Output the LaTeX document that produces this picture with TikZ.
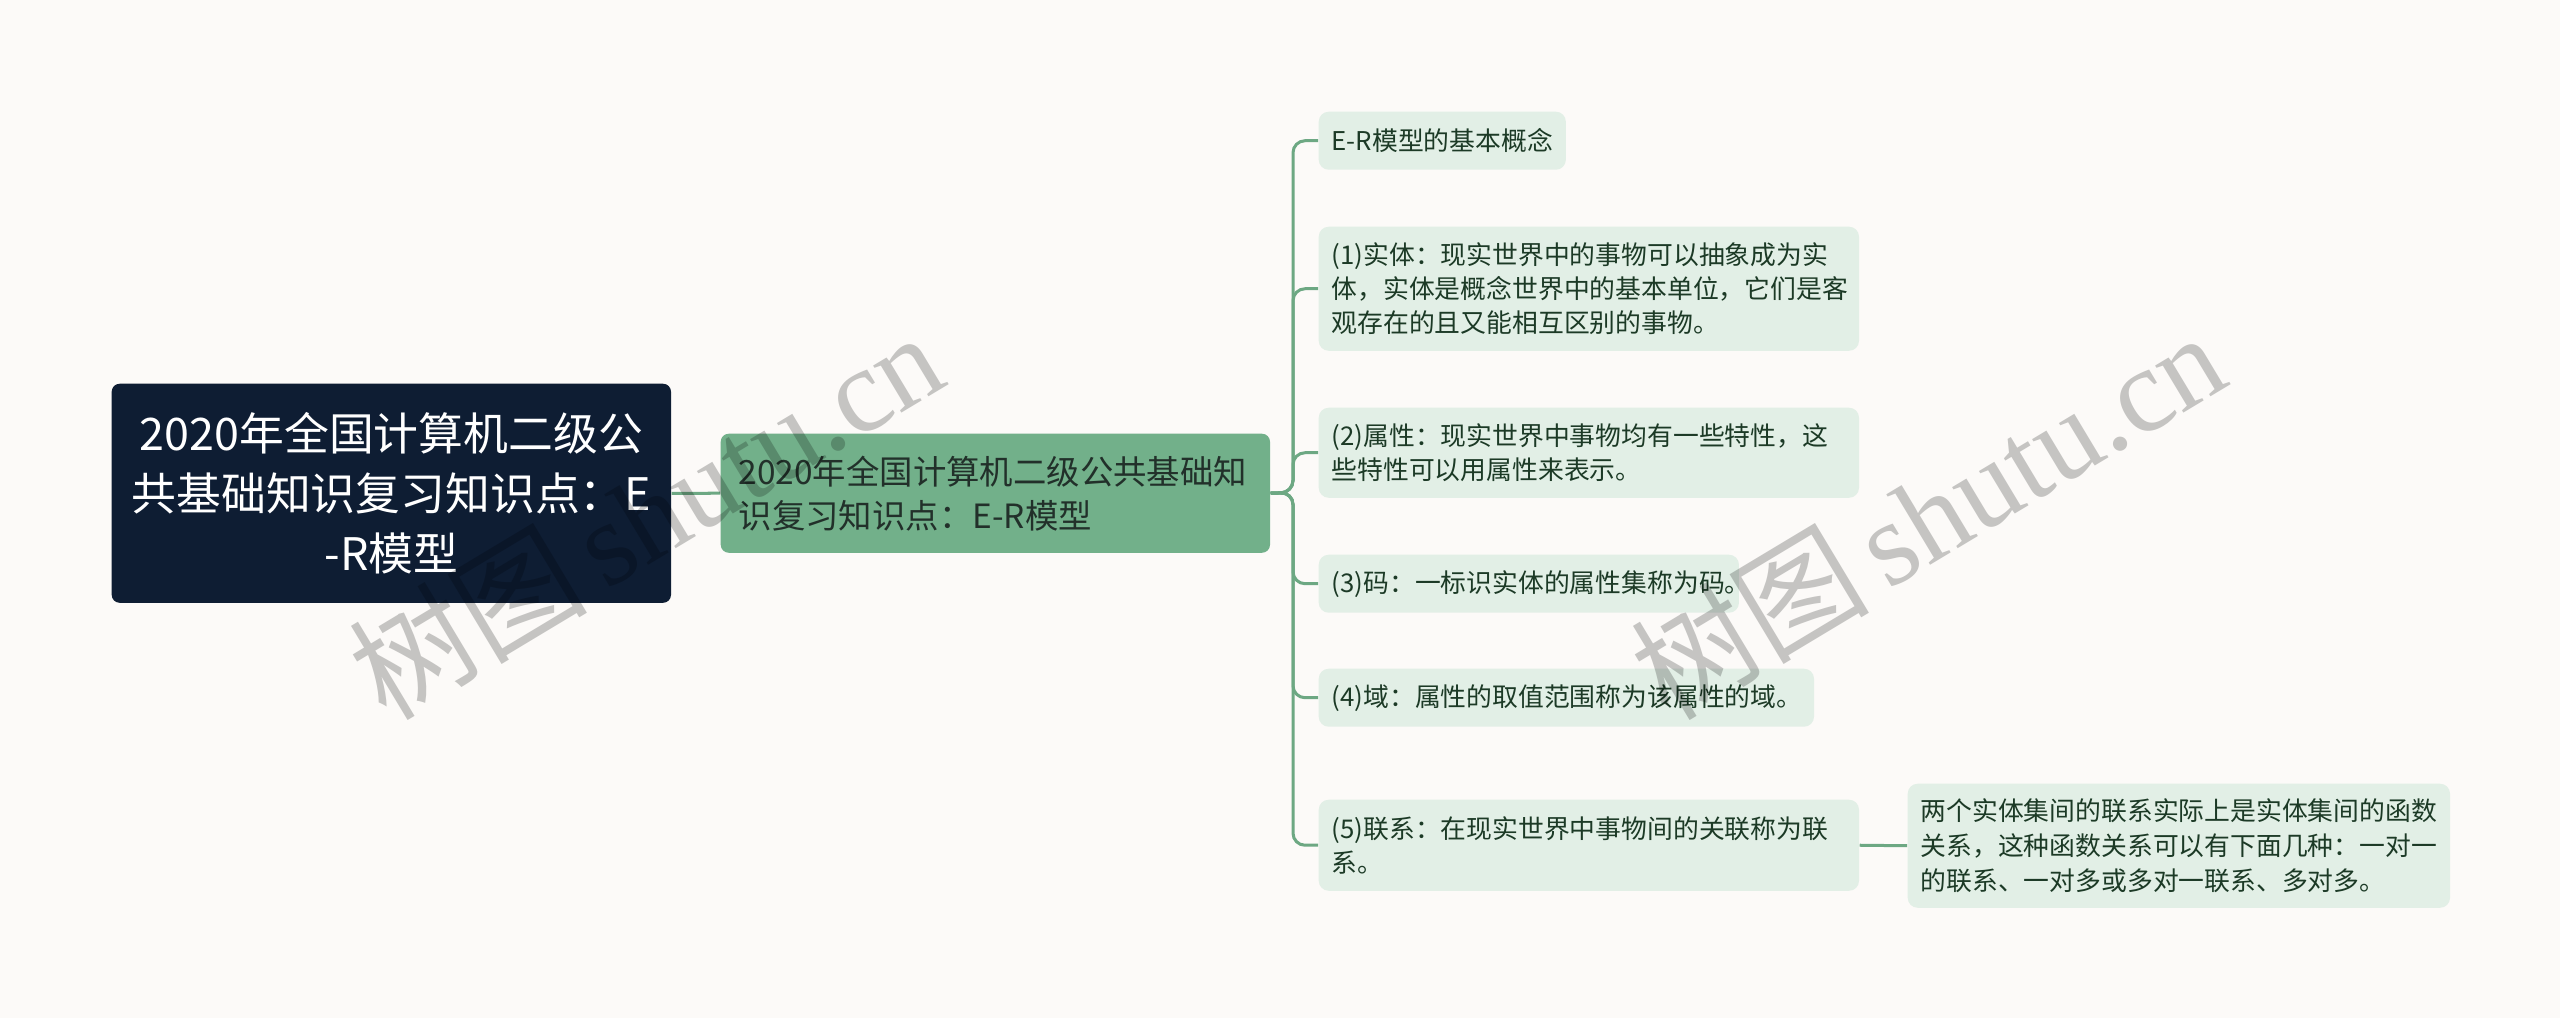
\documentclass[tikz,border=0pt]{standalone}
\usepackage{fontspec}
\setmainfont{Noto Sans CJK SC}
\newfontfamily\wmcjk{Noto Sans CJK SC}
\newfontfamily\wmlat{Liberation Serif}
\definecolor{bgc}{HTML}{FCFAF8}
\definecolor{rootc}{HTML}{0E1D33}
\definecolor{secfill}{HTML}{72B08A}
\definecolor{sectext}{HTML}{22302A}
\definecolor{chfill}{HTML}{E2EFE6}
\definecolor{chtext}{HTML}{1C3A26}
\definecolor{connc}{HTML}{6DA883}
\definecolor{wmc}{HTML}{C8C8C8}
\tikzset{
  rootbox/.style={fill=rootc, text=white, rounded corners=0.08cm, anchor=north west,
    align=center, inner sep=0pt, font=\fontsize{12.75}{17.07}\selectfont},
  secbox/.style={fill=secfill, text=sectext, rounded corners=0.08cm, anchor=north west,
    align=left, inner xsep=0.18cm, inner ysep=0pt, font=\fontsize{9.5}{12.52}\selectfont},
  chbox/.style={fill=chfill, text=chtext, rounded corners=0.1cm, anchor=north west,
    align=left, inner xsep=0.13cm, inner ysep=0pt, font=\fontsize{7.34}{9.6}\selectfont},
  gcbox/.style={chbox, font=\fontsize{7.34}{10.0}\selectfont},
  conn/.style={draw=connc, line width=0.03cm, rounded corners=0.12cm},
  wmark/.style={text=wmc, rotate=31, inner sep=0pt}
}
\begin{document}
\begin{tikzpicture}[x=0.01cm,y=-0.01cm]
\fill[bgc] (0,0) rectangle (2560,1018);
\useasboundingbox (0,0) rectangle (2560,1018);

\node[rootbox, minimum width=5.59cm, minimum height=2.19cm] (root) at (111,383)
  {2020年全国计算机二级公\\共基础知识复习知识点：E\\-R模型};
\node[secbox, text width=5.13cm, minimum height=1.19cm] (sec) at (720,433)
  {2020年全国计算机二级公共基础知\\识复习知识点：E-R模型};

\node[chbox, text width=2.21cm, minimum height=0.58cm] (c0) at (1318,111)
  {\mbox{E-R模型的基本概念}};
\node[chbox, text width=5.14cm, minimum height=1.24cm] (c1) at (1318,226)
  {(1)实体：现实世界中的事物可以抽象成为实\\体，实体是概念世界中的基本单位，它们是客\\观存在的且又能相互区别的事物。};
\node[chbox, text width=5.14cm, minimum height=0.90cm] (c2) at (1318,407)
  {(2)属性：现实世界中事物均有一些特性，这\\些特性可以用属性来表示。};
\node[chbox, text width=3.94cm, minimum height=0.58cm] (c3) at (1318,554)
  {(3)码：一标识实体的属性集称为码。};
\node[chbox, text width=4.69cm, minimum height=0.58cm] (c4) at (1318,668)
  {(4)域：属性的取值范围称为该属性的域。};
\node[chbox, text width=5.14cm, minimum height=0.91cm] (c5) at (1318,799)
  {(5)联系：在现实世界中事物间的关联称为联\\系。};
\node[gcbox, text width=5.16cm, minimum height=1.24cm] (g) at (1907,783)
  {两个实体集间的联系实际上是实体集间的函数\\关系，这种函数关系可以有下面几种：一对一\\的联系、一对多或多对一联系、多对多。};

\coordinate (sp) at (1293,492.5);
\draw[conn] (root.east) -- (sec.west);
\foreach \c in {c0,c1,c2,c3,c4,c5}{
  \draw[conn] (sec.east) -- (sp) |- (\c.west);
}
\draw[conn] (c5.east) -- (g.west);

\begin{scope}[blend mode=multiply]
\node[wmark] (wm1) at (645,514) {\fontsize{34}{34}\selectfont{\wmcjk 树图}\hspace{0.15em}{\wmlat shutu.cn}};
\node[wmark] (wm2) at (1927,514) {\fontsize{34}{34}\selectfont{\wmcjk 树图}\hspace{0.15em}{\wmlat shutu.cn}};
\end{scope}
\end{tikzpicture}
\end{document}
